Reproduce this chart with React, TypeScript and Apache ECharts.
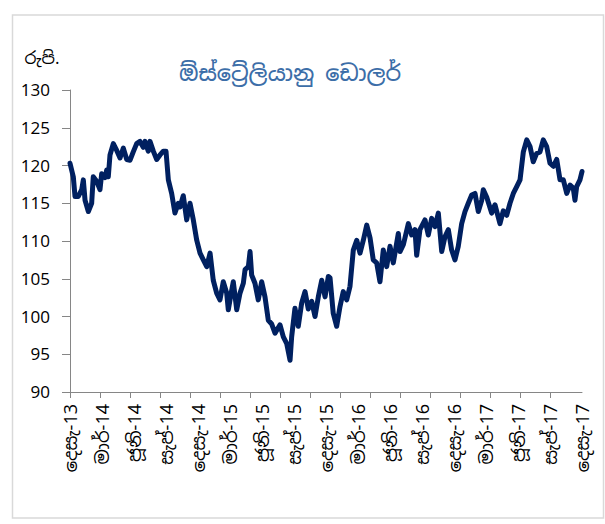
import React, { useEffect, useRef } from "react";
import * as echarts from "echarts";

const title = "ඕස්ට්\u200Dරේලියානු ඩොලර්";
const yUnit = "රුපි.";
const tickLabels = [
  "දෙසැ-13", "මාර්-14", "ජූනි-14", "සැප්-14", "දෙසැ-14", "මාර්-15", "ජූනි-15", "සැප්-15",
  "දෙසැ-15", "මාර්-16", "ජූනි-16", "සැප්-16", "දෙසැ-16", "මාර්-17", "ජූනි-17", "සැප්-17", "දෙසැ-17",
];
// months elapsed since Dec-2013
const months = [
  0, 0.31, 0.47, 0.78, 1.1, 1.25, 1.41, 1.72, 2.03, 2.18, 2.5, 2.81, 2.97, 3.28, 3.44, 3.59, 3.75,
  4.06, 4.38, 4.69, 5.0, 5.32, 5.63, 5.93, 6.25, 6.56, 6.87, 7.03, 7.34, 7.5, 7.81, 8.13, 8.44, 8.75,
  9.0, 9.22, 9.53, 9.84, 10.15, 10.31, 10.62, 10.94, 11.25, 11.56, 11.88, 12.19, 12.5, 12.82, 13.13,
  13.43, 13.75, 14.06, 14.37, 14.69, 14.84, 15.16, 15.31, 15.63, 15.94, 16.25, 16.41, 16.72, 16.88,
  17.03, 17.34, 17.65, 17.97, 18.28, 18.59, 18.91, 19.22, 19.69, 20.0, 20.32, 20.63, 20.78, 21.09,
  21.4, 21.72, 22.03, 22.34, 22.66, 22.97, 23.28, 23.6, 23.91, 24.22, 24.38, 24.68, 25.0, 25.31,
  25.62, 25.94, 26.25, 26.56, 26.88, 27.19, 27.5, 27.82, 28.13, 28.43, 28.75, 29.06, 29.37, 29.69,
  30.0, 30.31, 30.78, 30.94, 31.25, 31.72, 32.03, 32.34, 32.5, 32.81, 33.28, 33.59, 33.91, 34.22,
  34.53, 34.85, 35.16, 35.47, 35.78, 36.09, 36.4, 36.72, 37.03, 37.34, 37.66, 37.97, 38.28, 38.6,
  38.75, 39.07, 39.53, 39.84, 40.31, 40.62, 40.94, 41.25, 41.56, 41.88, 42.19, 42.5, 42.82, 43.13,
  43.43, 43.75, 44.06, 44.37, 44.69, 45.0, 45.31, 45.63, 45.94, 46.25, 46.57, 46.88, 47.18, 47.34,
  47.5, 47.81, 48.0,
];
const rates = [
  120.3, 118.5, 115.9, 115.9, 116.8, 118.1, 115.4, 113.9, 115, 118.5, 117.9, 116.8, 118.9, 118.4, 119.4, 118.5, 121.4,
  122.9, 122.0, 121, 122.3, 120.8, 120.7, 121.8, 122.9, 123.2, 122.4, 123.2, 121.9, 123.2, 121.9, 120.8, 121.4, 121.9,
  121.9, 118.1, 116.3, 113.7, 115, 114.5, 116, 112.8, 115, 112.8, 110.1, 108.4, 107.5, 106.6, 108.4,
  104.8, 103.1, 102.2, 104.6, 103.1, 100.9, 103.5, 104.6, 100.9, 103.1, 104.4, 106.2, 106.6, 108.6,
  105.5, 104.4, 102.2, 104.6, 102.6, 99.5, 99.0, 97.8, 98.9, 97.3, 96.4, 94.2, 97.3, 101.1,
  98.7, 101.8, 103.3, 101, 102, 100, 102.6, 104.8, 102.6, 105.3, 105.1, 100.4, 98.7, 101.3,
  103.3, 102.2, 104, 108.8, 110.1, 108.4, 110.1, 112.1, 110.4, 107.5, 107.1, 104.6, 108.8, 106.6,
  109.3, 107.1, 111, 108.6, 109.5, 112.3, 110.8, 111.5, 108.1, 111.5, 112.8, 110.8, 113, 111.9,
  113.7, 108.6, 110.6, 111.5, 108.8, 107.5, 109.3, 112.3, 113.9, 115, 116.1, 116.3, 113.9, 115.4,
  116.8, 115.8, 113.7, 114.8, 112.3, 114, 113.4, 115, 116.3, 117.2, 118.1, 121.8, 123.4, 122.5,
  120.5, 121.6, 121.8, 123.4, 122.5, 120.3, 119.9, 120.8, 118.1, 118.1, 116.3, 117.4, 117, 115.4,
  117.2, 118.1, 119.2,
];

const FONT = "'Noto Sans Sinhala', 'Noto Sans', 'Open Sans', sans-serif";

export default function App() {
  const ref = useRef<HTMLDivElement>(null);
  useEffect(() => {
    document.body.style.margin = "0";
    const chart = echarts.init(ref.current!, null, { renderer: "svg" });
    const span = 48;
    const labelValues = tickLabels.map((_, i) => (i * span) / (tickLabels.length - 1));
    const tickStep = span * 30 / 512;
    const tickValues = tickLabels.map((_, i) => i * tickStep);
    chart.setOption({
      animation: false,
      backgroundColor: "#ffffff",
      graphic: [
        {
          type: "rect",
          shape: { x: 12.5, y: 15, width: 591, height: 503 },
          style: { fill: "none", stroke: "#d9d9d9", lineWidth: 1.5 },
          silent: true,
        },
        {
          type: "text",
          x: 290,
          y: 73,
          style: {
            text: title,
            fill: "#3c6ea8",
            font: `500 22px ${FONT}`,
            textAlign: "center",
            textVerticalAlign: "middle",
          },
        },
        {
          type: "text",
          x: 42,
          y: 58,
          style: {
            text: yUnit,
            fill: "#000000",
            font: `17px ${FONT}`,
            textAlign: "center",
            textVerticalAlign: "middle",
          },
        },
      ],
      grid: { left: 70, right: 23, top: 90, bottom: 132, containLabel: false },
      xAxis: {
        type: "value",
        min: 0,
        max: span,
        splitLine: { show: false },
        axisLine: { show: true, lineStyle: { color: "#868686", width: 1 } },
        axisTick: {
          show: true,
          inside: false,
          length: 6,
          customValues: tickValues,
          lineStyle: { color: "#868686", width: 1 },
        },
        axisLabel: {
          customValues: labelValues,
          rotate: 90,
          margin: 12,
          fontSize: 18,
          fontFamily: FONT,
          color: "#000000",
          formatter: (v: number) => {
            const idx = Math.round((v * (tickLabels.length - 1)) / span);
            return tickLabels[idx] ?? "";
          },
        },
      },
      yAxis: {
        type: "value",
        min: 90,
        max: 130,
        interval: 5,
        splitLine: { show: false },
        axisLine: { show: true, lineStyle: { color: "#868686", width: 1 } },
        axisTick: { show: true, inside: false, length: 8, lineStyle: { color: "#868686", width: 1 } },
        axisLabel: { margin: 20, fontSize: 17, fontFamily: FONT, color: "#000000" },
      },
      series: [
        {
          type: "line",
          data: months.map((m, i) => [m, rates[i]]),
          showSymbol: false,
          symbol: "none",
          lineStyle: { color: "#002060", width: 5, join: "round", cap: "round" },
        },
      ],
    });
    return () => chart.dispose();
  }, []);
  return <div ref={ref} style={{ width: 605, height: 524 }} />;
}
